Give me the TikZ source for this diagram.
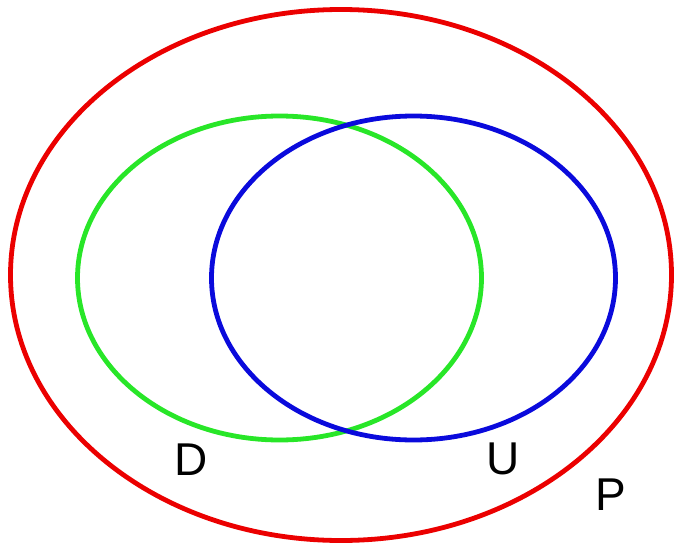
\documentclass[tikz,border=0pt]{standalone}
\usepackage{fontspec}
\setmainfont{Liberation Sans}
\begin{document}
\begin{tikzpicture}[x=1pt,y=-1pt,
  ring/.style={line width=4.8pt},
  lbl/.style={font=\fontsize{46}{46}\selectfont, inner sep=0pt, anchor=center}]
\useasboundingbox (0,0) rectangle (683,549);
\draw[ring, color={rgb,255:red,235;green,0;blue,0}] (341,275) ellipse [x radius=330.5, y radius=265.5];
\draw[ring, color={rgb,255:red,40;green,230;blue,40}] (279.5,278) ellipse [x radius=202, y radius=162];
\draw[ring, color={rgb,255:red,10;green,10;blue,220}] (413.5,278) ellipse [x radius=202, y radius=162];
\node[lbl] (d) at (191,460) {D};
\node[lbl] (u) at (503,459) {U};
\node[lbl] (p) at (611,495) {P};
\end{tikzpicture}
\end{document}
